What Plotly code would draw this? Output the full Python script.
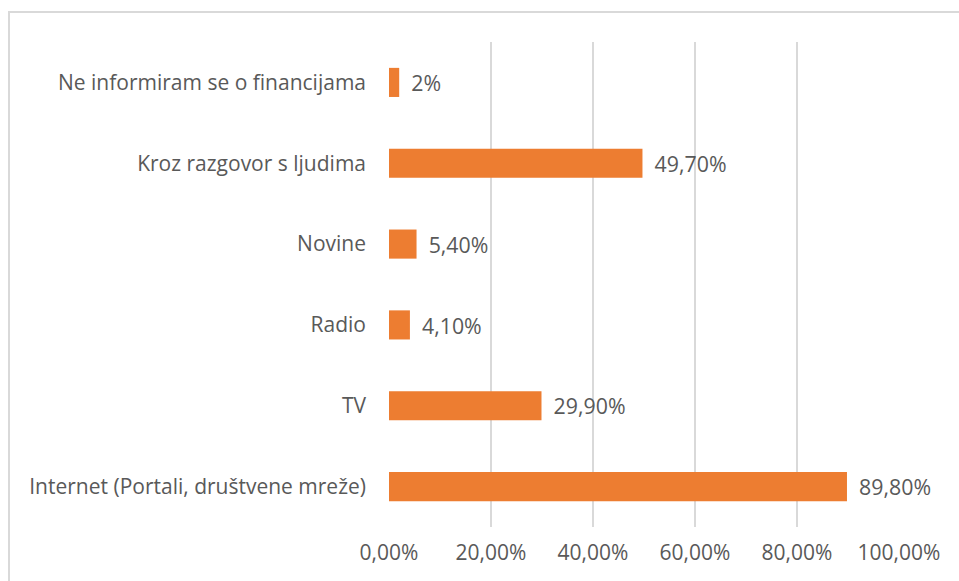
import plotly.graph_objects as go

categories = [
    "Internet (Portali, društvene mreže)",
    "TV",
    "Radio",
    "Novine",
    "Kroz razgovor s ljudima",
    "Ne informiram se o financijama",
]
values = [0.898, 0.299, 0.041, 0.054, 0.497, 0.02]
value_labels = ["89,80%", "29,90%", "4,10%", "5,40%", "49,70%", "2%"]
x_ticks = [0, 0.2, 0.4, 0.6, 0.8, 1.0]

W, H = 959, 581
ML, MR, MT, MB = 389, 60, 42, 54

FONT = "Open Sans"
FS = 21
FS_NUM = 22
TXT = "#595959"

fig = go.Figure(
    go.Bar(
        x=values,
        y=categories,
        orientation="h",
        marker=dict(color="#ED7D31", line=dict(width=0)),
        text=value_labels,
        texttemplate="\u00a0\u2009%{text}",
        textposition="outside",
        cliponaxis=False,
        textfont=dict(family=FONT, size=FS_NUM, color=TXT),
        hoverinfo="skip",
    )
)

pw = W - ML - MR
ph = H - MT - MB
fig.add_shape(
    type="rect",
    xref="paper", yref="paper",
    x0=(9 - ML) / pw, x1=(W + 20 - ML) / pw,
    y0=-(H + 20 - MT - ph) / ph, y1=1 + (MT - 12) / ph,
    line=dict(color="#D9D9D9", width=2),
    fillcolor="rgba(0,0,0,0)",
    layer="below",
)

fig.update_layout(
    width=W, height=H,
    margin=dict(l=ML, r=MR, t=MT, b=MB, pad=0),
    paper_bgcolor="white",
    plot_bgcolor="white",
    separators=", ",
    bargap=0.64,
    showlegend=False,
    font=dict(family=FONT, size=FS, color=TXT),
    xaxis=dict(
        range=[0, 1.0],
        tickvals=x_ticks,
        tickformat=".2%",
        showgrid=True,
        gridcolor="#D9D9D9",
        gridwidth=2,
        zeroline=False,
        showline=False,
        ticks="",
        ticklabelstandoff=11,
        tickfont=dict(family=FONT, size=FS, color=TXT),
        fixedrange=True,
    ),
    yaxis=dict(
        categoryorder="array",
        categoryarray=categories,
        showgrid=False,
        zeroline=False,
        showline=False,
        ticks="",
        ticklabelstandoff=22,
        tickfont=dict(family=FONT, size=FS, color=TXT),
        fixedrange=True,
    ),
)

fig.write_html(
    "out.html",
    config={"displayModeBar": False},
    post_script="document.body.style.margin='0';document.body.style.overflow='hidden';",
)
